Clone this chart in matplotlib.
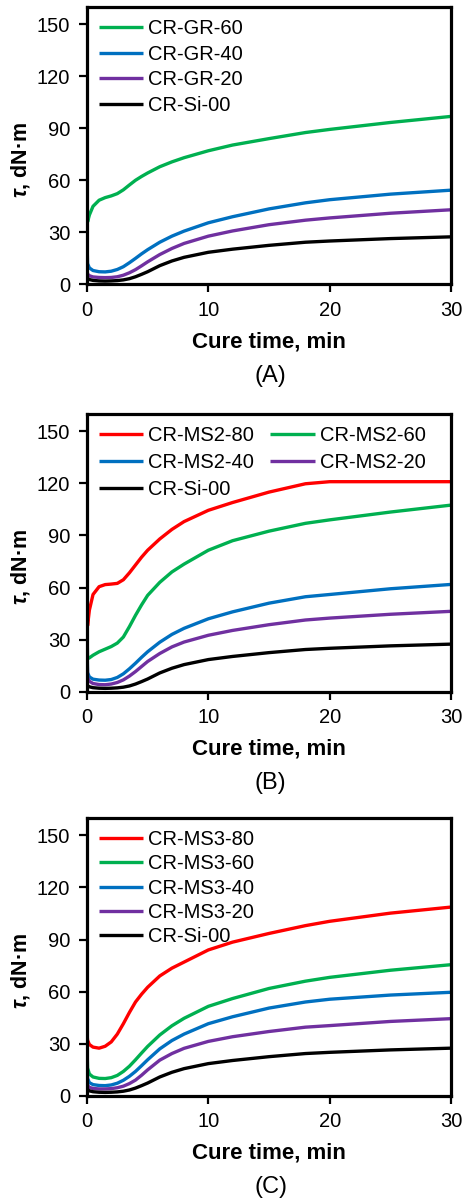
import numpy as np
import matplotlib
matplotlib.use('Agg')
import matplotlib.pyplot as plt

plt.rcParams['font.family'] = ['Liberation Sans', 'DejaVu Sans']
plt.rcParams['mathtext.fontset'] = 'custom'
plt.rcParams['mathtext.it'] = 'Liberation Sans:italic:bold'
plt.rcParams['mathtext.rm'] = 'Liberation Sans:bold'

# cure time, min
t = [0, 0.05, 0.2, 0.5, 1, 1.5, 2, 2.5, 3, 3.5, 4, 4.5, 5, 6, 7, 8, 10, 12, 15, 18, 20, 25, 30]

# torque, dN*m
si00 = [4.5, 3.5, 2.8, 2.3, 2.0, 1.9, 2.0, 2.2, 2.6, 3.3, 4.4, 5.8, 7.3, 10.8, 13.5, 15.6, 18.5, 20.3, 22.5, 24.3, 25.0, 26.4, 27.4]

gr60 = [47, 36, 40, 45, 48.5, 50, 51, 52.3, 54.5, 57.3, 60, 62.2, 64.2, 67.8, 70.6, 73, 77, 80.3, 84, 87.5, 89.3, 93.3, 96.8]
gr40 = [26, 12, 9.5, 8, 7.3, 7.2, 7.6, 8.6, 10.2, 12.5, 15, 17.6, 20, 24.3, 27.8, 30.7, 35.5, 39, 43.5, 47, 48.8, 52, 54.3]
gr20 = [9, 6, 5, 4.3, 4.0, 3.9, 4.0, 4.4, 5.3, 6.7, 8.5, 10.7, 13, 17.2, 20.7, 23.6, 27.8, 30.8, 34.4, 37, 38.3, 41, 43]

ms2_80 = [53, 38, 47, 56, 60.5, 61.7, 62, 62.4, 64.5, 68.5, 73, 77.5, 81.5, 88, 93.5, 98, 104.5, 109, 115, 119.8, 121, 121, 121]
ms2_60 = [38, 19, 19.5, 21, 23, 24.5, 26, 28, 31.5, 37.5, 44, 50, 55.5, 63, 69, 73.5, 81.5, 87, 92.5, 97, 99, 103.5, 107.5]
ms2_40 = [30, 11, 8.5, 7.2, 6.7, 6.6, 7.0, 8.2, 10.3, 13.2, 16.4, 19.8, 23, 28.5, 33, 36.5, 42, 46, 51, 54.7, 56, 59.3, 61.8]
ms2_20 = [28, 8, 6, 4.7, 4.1, 4.0, 4.4, 5.3, 6.8, 9, 11.6, 14.5, 17.4, 22, 25.8, 28.6, 32.5, 35.3, 38.6, 41.3, 42.4, 44.6, 46.3]

ms3_80 = [36, 32, 29.5, 28, 27.4, 28.5, 31, 35.5, 41.5, 48, 54, 58.5, 62.5, 69, 73.5, 77, 84, 88.5, 93.5, 98, 100.5, 105.2, 108.7]
ms3_60 = [30, 16, 12.5, 10.8, 10, 9.9, 10.4, 11.7, 14, 17, 20.7, 24.6, 28.4, 35, 40.3, 44.6, 51.5, 56, 61.8, 66, 68.2, 72.3, 75.5]
ms3_40 = [24, 10, 7.5, 6.4, 5.9, 5.8, 6.2, 7.2, 8.9, 11.2, 14, 17.3, 20.7, 27, 31.8, 35.5, 41.5, 45.5, 50.5, 54, 55.6, 58, 59.6]
ms3_20 = [9, 6, 4.8, 4.2, 3.9, 3.9, 4.1, 4.6, 5.5, 7, 9, 11.8, 14.9, 20.5, 24.3, 27.3, 31.3, 34, 37, 39.5, 40.4, 42.8, 44.4]

RED = '#FF0000'
GREEN = '#00B050'
BLUE = '#0070C0'
PURPLE = '#7030A0'
BLACK = '#000000'

# (caption, series, legend columns, legend row spacing)
panels = [
    ('(A)', [('CR-GR-60', gr60, GREEN), ('CR-GR-40', gr40, BLUE),
             ('CR-GR-20', gr20, PURPLE), ('CR-Si-00', si00, BLACK)], 1, 0.34),
    ('(B)', [('CR-MS2-80', ms2_80, RED), ('CR-MS2-60', ms2_60, GREEN),
             ('CR-MS2-40', ms2_40, BLUE), ('CR-MS2-20', ms2_20, PURPLE),
             ('CR-Si-00', si00, BLACK)], 2, 0.40),
    ('(C)', [('CR-MS3-80', ms3_80, RED), ('CR-MS3-60', ms3_60, GREEN),
             ('CR-MS3-40', ms3_40, BLUE), ('CR-MS3-20', ms3_20, PURPLE),
             ('CR-Si-00', si00, BLACK)], 1, 0.26),
]

fig = plt.figure(figsize=(4.65, 12), dpi=100)
bottoms = [0.763, 0.4236, 0.0869]
caption_y = [1 - 376 / 1200, 1 - 783 / 1200, 1 - 1187 / 1200]

for (tag, series, ncol, lspace), b, cy in zip(panels, bottoms, caption_y):
    ax = fig.add_axes([0.187, b, 0.783, 0.2314])
    lines = {}
    for name, vals, col in series:
        ln, = ax.plot(t, vals, color=col, lw=2.4, label=name,
                      solid_joinstyle='round', solid_capstyle='butt')
        lines[name] = ln
    ax.set_xlim(0, 30)
    ax.set_ylim(0, 160)
    ax.set_xticks([0, 10, 20, 30])
    ax.set_yticks([0, 30, 60, 90, 120, 150])
    ax.tick_params(direction='out', length=6, width=1.6, labelsize=14.5)
    ax.tick_params(axis='x', pad=6)
    ax.tick_params(axis='y', pad=6)
    for sp in ax.spines.values():
        sp.set_linewidth(2.3)
    ax.set_xlabel('Cure time, min', fontsize=16, fontweight='bold', labelpad=8)
    ax.set_ylabel(r'$\tau$, dN·m', fontsize=15.5, fontweight='bold')
    ax.yaxis.set_label_coords(-0.15, 0.45)

    if ncol == 2:
        # row-wise reading order in two columns
        order = [0, 2, 4, 1, 3]
        hs = [lines[series[i][0]] for i in order]
        labs = [series[i][0] for i in order]
        ax.legend(hs, labs, ncol=2, loc='upper left', frameon=False,
                  fontsize=14.5, handlelength=2.2, handletextpad=0.25,
                  columnspacing=0.8, labelspacing=lspace, borderaxespad=0.3,
                  borderpad=0.3)
    else:
        ax.legend(loc='upper left', frameon=False, fontsize=14.5,
                  handlelength=2.2, handletextpad=0.25, labelspacing=lspace,
                  borderaxespad=0.3, borderpad=0.3)

    fig.text(0.582, cy, tag, ha='center', va='center', fontsize=17)

fig.savefig('out.png', dpi=100)
